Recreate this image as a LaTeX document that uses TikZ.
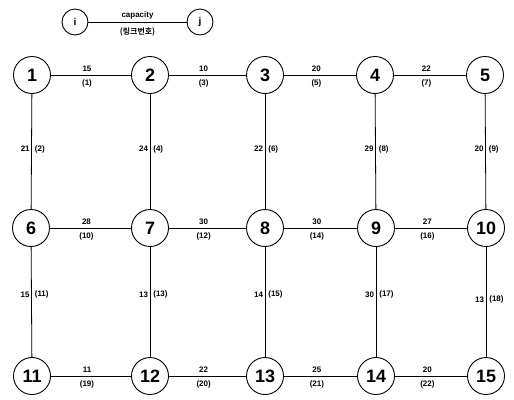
\documentclass[tikz,border=0pt]{standalone}
\usepackage{fontspec}
\setmainfont{Liberation Sans}
\newfontfamily\krfont{Noto Sans CJK KR}[BoldFont={* Bold}]
\begin{document}
\begin{tikzpicture}[x=1bp,y=-1bp,
  nd/.style={circle,draw,line width=0.9bp,minimum size=37bp,inner sep=0pt,font=\fontsize{18}{18}\selectfont\bfseries},
  lg/.style={circle,draw,line width=0.9bp,minimum size=26bp,inner sep=0pt,font=\fontsize{10}{10}\selectfont\bfseries},
  ln/.style={line width=0.8bp},
  lab/.style={font=\fontsize{8}{8}\selectfont\bfseries,inner sep=1bp}]
\useasboundingbox (0,0) rectangle (514,399);
% legend
\node[lg] (li) at (75,22) {i};
\node[lg] (lj) at (200,22) {j};
\draw[ln] (li) -- node[lab,above=1bp] {capacity} node[lab,below=4bp] {\krfont(링크번호)} (lj);
% nodes
\foreach \n/\x/\y in {1/32/75,2/150/75,3/265/75,4/375/75,5/485/75,
  6/31/228,7/150/228,8/265/228,9/376/228,10/486/228,
  11/32/376,12/150/376,13/265/376,14/376/376,15/486/376}
  \node[nd] (n\n) at (\x,\y) {\n};
% horizontal links
\foreach \a/\b/\c/\l in {1/2/15/1,2/3/10/3,3/4/20/5,4/5/22/7,
  6/7/28/10,7/8/30/12,8/9/30/14,9/10/27/16,
  11/12/11/19,12/13/22/20,13/14/25/21,14/15/20/22}
  \draw[ln] (n\a) -- node[lab,above=2bp,pos=0.45] {\c} node[lab,below=3bp,pos=0.45] {(\l)} (n\b);
% vertical links
\foreach \a/\b/\c/\l/\p in {1/6/21/2/0.48,2/7/24/4/0.48,3/8/22/6/0.48,4/9/29/8/0.48,5/10/20/9/0.48,
  6/11/15/11/0.43,7/12/13/13/0.43,8/13/14/15/0.43,9/14/30/17/0.43,10/15/13/18/0.48}
  \draw[ln] (n\a) -- node[lab,left=0.5bp,pos=\p] {\c} node[lab,right=2bp,pos=\p] {(\l)} (n\b);
\end{tikzpicture}
\end{document}
